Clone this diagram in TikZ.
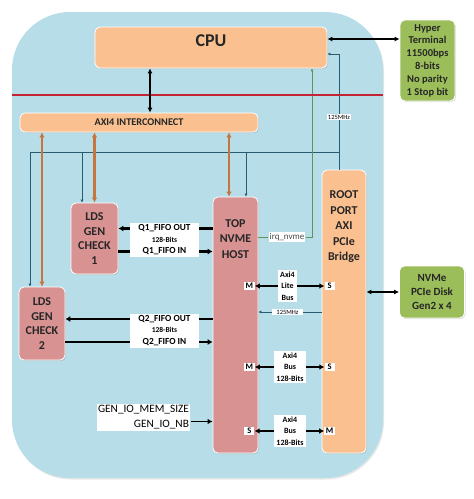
\documentclass[tikz,border=0pt]{standalone}
\usepackage{fontspec}
\setmainfont{Carlito}
\usetikzlibrary{arrows.meta,shadows}

\definecolor{bgblue}{RGB}{183,222,232}
\definecolor{boxorange}{RGB}{250,192,144}
\definecolor{boxpink}{RGB}{217,146,146}
\definecolor{boxgreen}{RGB}{155,190,90}
\definecolor{sepred}{RGB}{195,35,50}
\definecolor{axibrown}{RGB}{196,118,62}
\definecolor{clkteal}{RGB}{40,92,112}
\definecolor{irqgreen}{RGB}{92,150,92}

\begin{document}
\begin{tikzpicture}[x=1pt,y=-1pt,
	blk/.style={draw=white,line width=0.8pt,rounded corners=5pt,inner sep=0pt,align=center,text=black!85,
		drop shadow={opacity=0.25,shadow xshift=1pt,shadow yshift=-1.2pt},
		font=\fontsize{12}{14.5}\selectfont\bfseries},
	blktxt/.style={align=center,text=black!85,font=\fontsize{12}{15.5}\selectfont\bfseries},
	lbl/.style={fill=white,inner sep=1.5pt,align=center,font=\fontsize{9.3}{11.5}\selectfont\bfseries},
	busbox/.style={fill=white,inner sep=2pt,align=center,font=\fontsize{8}{11.5}\selectfont\bfseries},
	port/.style={fill=white,inner sep=1.5pt,minimum width=10pt,font=\fontsize{8.5}{9}\selectfont\bfseries},
	clklbl/.style={fill=white,inner sep=1pt,font=\fontsize{6.5}{7}\selectfont},
	fifo/.style={line width=2.4pt,-{Latex[length=5pt,width=6pt]}},
	bus/.style={line width=1.8pt,-{Latex[length=5pt,width=5.5pt]}},
	axiarrow/.style={axibrown,line width=2.2pt,{Latex[length=5pt,width=5.5pt]}-{Latex[length=5pt,width=5.5pt]}},
	clkline/.style={clkteal,line width=0.8pt},
	irqline/.style={irqgreen,line width=0.8pt},
	link/.style={line width=1.4pt,{Latex[length=5pt,width=5pt]}-{Latex[length=5pt,width=5pt]}}]
	
	\useasboundingbox (0,0) rectangle (474,499);
	\fill[bgblue,rounded corners=58pt,drop shadow={opacity=0.2,shadow xshift=1pt,shadow yshift=-1.5pt}] (12,12) rectangle (383,478);
	
	\node[blk,fill=boxorange,minimum width=232pt,minimum height=41pt] (cpu) at (211,47.5) {};
	\node[blktxt,font=\fontsize{18}{20}\selectfont\bfseries] (cputxt) at (211,41) {CPU};
	\node[blk,fill=boxgreen,minimum width=55pt,minimum height=81pt,font=\fontsize{10.5}{12.8}\selectfont\bfseries] (term) at (427.5,60.5) {Hyper\\Terminal\\11500bps\\8-bits\\No parity\\1 Stop bit};
	\node[blk,fill=boxorange,minimum width=238pt,minimum height=19pt,font=\fontsize{10.3}{11}\selectfont\bfseries] (axi) at (139,122.5) {AXI4 INTERCONNECT};
	
	\node[blk,fill=boxpink,minimum width=47pt,minimum height=71pt] (lds1) at (94.5,238.5) {LDS\\GEN\\CHECK\\1};
	\node[blk,fill=boxpink,minimum width=46pt,minimum height=73pt] (lds2) at (42,323.5) {LDS\\GEN\\CHECK\\2};
	\node[blk,fill=boxpink,minimum width=45pt,minimum height=256pt] (host) at (235.5,325) {};
	\node[blktxt] (hosttxt) at (235.5,239) {TOP\\NVME\\HOST};
	\node[blk,fill=boxorange,minimum width=44pt,minimum height=283pt] (root) at (344,311.5) {};
	\node[blktxt] (roottxt) at (344,227) {ROOT\\PORT\\AXI\\PCIe\\Bridge};
	\node[blk,fill=boxgreen,minimum width=65pt,minimum height=52pt,font=\fontsize{11}{14}\selectfont\bfseries] (disk) at (432,292) {NVMe\\PCIe Disk\\Gen2 x 4};
	
	% clock and interrupt
	\coordinate (clk) at (339,152);
	\coordinate (cpuclk) at ([yshift=-6.5pt]cpu.east);
	\draw[clkline,-{Latex[length=3pt,width=3pt]}] (root.north -| clk) -- (cpuclk -| clk) -- (cpuclk);
	\draw[clkline] (clk) -- ([xshift=-12pt]lds2.north |- clk);
	\foreach \nd/\dx in {lds2/-12,lds1/-12.5,host/10.5}
	{
		\draw[clkline,-{Latex[length=3pt,width=3pt]}] ([xshift=\dx pt]\nd.north |- clk) -- ([xshift=\dx pt]\nd.north);
	}
	\node[clklbl] (mhza) at (339,117) {125MHz};
	\node[lbl,font=\fontsize{9}{11}\selectfont,text=black!70,inner sep=1pt] (irq) at (287,237) {irq\_nvme};
	\draw[irqline] (irq.west -| host.east) -- (irq.west);
	\draw[irqline,-{Latex[length=3pt,width=3pt]}] (irq.east) -| ([xshift=101pt]cpu.south);
	
	\draw[sepred,line width=2pt] (12,95) -- (383,95);
	\draw[link] ([xshift=-61pt]cpu.south) -- ([xshift=-61pt]cpu.south |- axi.north);
	\draw[link] ([yshift=8.5pt]cpu.east) -- ([yshift=8.5pt]cpu.east -| term.west);
	\draw[link] (root.east |- disk.west) -- (disk.west);
	
	\foreach \nd/\dx in {lds2/0,lds1/0,host/-6.5}
	{
		\draw[axiarrow] ([xshift=\dx pt]\nd.north |- axi.south) -- ([xshift=\dx pt]\nd.north);
	}
	
	% fifo paths
	\node[lbl,minimum width=69pt,minimum height=34pt] (q1) at (164.5,240) {Q1\_FIFO OUT\\{\fontsize{7.5}{11.5}\selectfont 128-Bits}\\Q1\_FIFO IN};
	\node[lbl,minimum width=69pt,minimum height=34pt] (q2) at (164.5,330.5) {Q2\_FIFO OUT\\{\fontsize{7.5}{11.5}\selectfont 128-Bits}\\Q2\_FIFO IN};
	\foreach \q/\nd in {q1/lds1,q2/lds2}
	{
		\draw[fifo,-] ([yshift=11.5pt]\q.east -| host.west) -- ([yshift=11.5pt]\q.east);
		\draw[fifo] ([yshift=11.5pt]\q.west) -- ([yshift=11.5pt]\q.west -| \nd.east);
		\draw[fifo,-] ([yshift=-11.5pt]\q.west -| \nd.east) -- ([yshift=-11.5pt]\q.west);
		\draw[fifo] ([yshift=-11.5pt]\q.east) -- ([yshift=-11.5pt]\q.east -| host.west);
	}
	
	\node[lbl,align=right,font=\fontsize{11.3}{15}\selectfont] (genio) at (143.5,417.5) {GEN\_IO\_MEM\_SIZE\\GEN\_IO\_NB};
	\draw[bus] ([yshift=-4pt]genio.east) -- ([yshift=-4pt]genio.east -| host.west);
	
	% buses between host and bridge
	\node[busbox] (lite) at (287.5,286) {Axi4\\Lite\\Bus};
	\node[busbox] (wideA) at (290,367) {Axi4\\Bus\\128-Bits};
	\node[busbox] (wideB) at (290,431) {Axi4\\Bus\\128-Bits};
	\foreach \b/\l/\r in {lite/M/S,wideA/M/S,wideB/S/M}
	{
		\node[port,xshift=-9pt] (\b-l) at (\b.west -| host.east) {\l};
		\node[port,xshift=8pt] (\b-r) at (\b.east -| root.west) {\r};
		\draw[bus] (\b.west) -- (\b-l.east);
		\draw[bus] (\b.east) -- (\b-r.west);
	}
	\node[clklbl,minimum width=31pt] (mhzb) at (287.5,312) {125MHz};
	\draw[clkline] (root.west |- mhzb) -- (mhzb.east);
	\draw[clkline,-{Latex[length=3pt,width=3pt]}] (mhzb.west) -- (host.east |- mhzb);
	
\end{tikzpicture}
\end{document}
